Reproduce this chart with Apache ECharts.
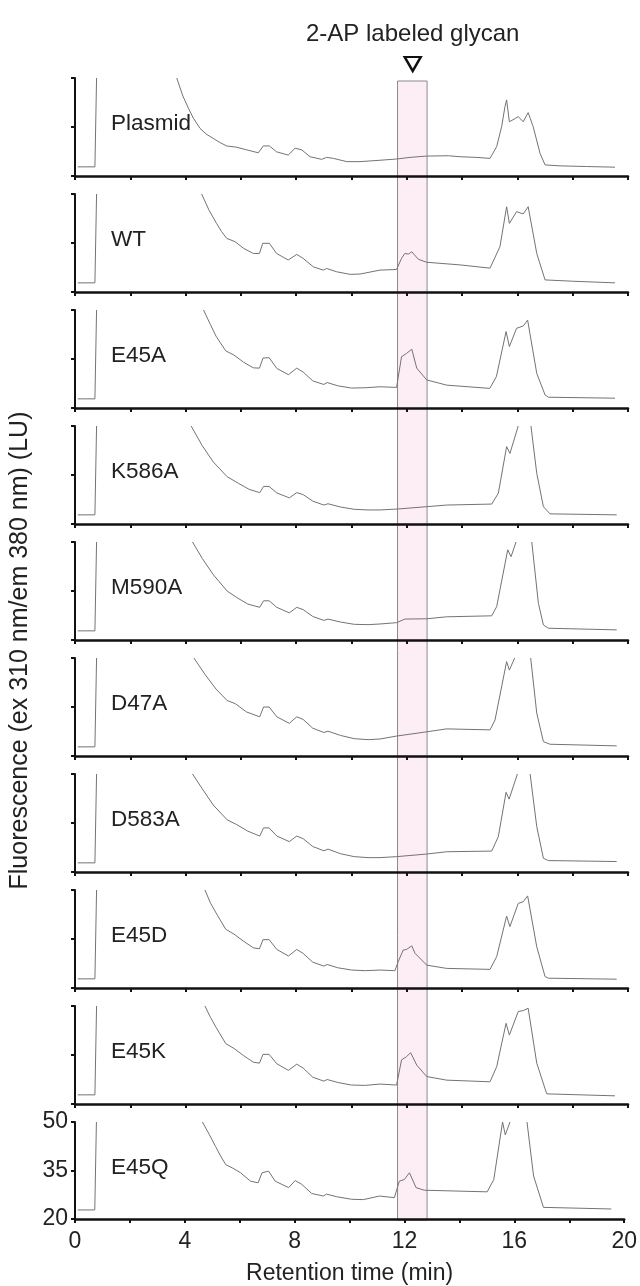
<!DOCTYPE html>
<html><head><meta charset="utf-8">
<script src="https://cdn.jsdelivr.net/npm/echarts@6/dist/echarts.min.js"></script>
<style>html,body{margin:0;padding:0;background:#fff}#c{width:640px;height:1286px}</style>
</head><body><div id="c"></div>
<script>
// ---------------- data ----------------
const sampleNames = ['Plasmid','WT','E45A','K586A','M590A','D47A','D583A','E45D','E45K','E45Q'];
const xTickLabels = [0,4,8,12,16,20];
const yTickLabels = [20,35,50];
const glycanWindow = [11.65, 12.72];   // min
const glycanMarkerTime = 12.2;          // min
const titleText = '2-AP labeled glycan';
const xTitle = 'Retention time (min)';
const yTitle = 'Fluorescence (ex 310 nm/em 380 nm) (LU)';

const plasmid = [[0.1,22.8],[0.72,22.8],[0.78,50],[2,null],
[3.68,50],[3.9,44.5],[4.1,40.8],[4.28,37.7],[4.52,34.6],[4.75,32.8],[5.0,31.5],[5.25,30.2],[5.49,29.2],[5.85,28.8],[6.21,28.0],[6.63,27.1],[6.81,29.2],[7.03,29.2],[7.29,27.4],[7.71,26.4],[7.96,28.5],[8.2,28.0],[8.5,25.9],[8.92,25.1],[9.1,25.7],[9.34,25.4],[9.83,24.4],[10.31,24.4],[11.0,24.8],[11.63,25.2],[12.12,25.7],[12.72,26.1],[13.5,26.2],[13.92,25.9],[14.5,25.7],[15.01,25.4],[15.25,29.0],[15.43,35.1],[15.55,41.2],[15.61,43.3],[15.71,36.6],[15.88,37.4],[16.03,38.2],[16.21,36.6],[16.39,39.4],[16.57,35.1],[16.82,26.9],[17.0,23.4],[17.54,23.1],[18.5,22.9],[19.53,22.7]];

const wt = [[0.1,22.8],[0.72,22.8],[0.78,50],[2,null],
[4.58,50],[4.85,45],[5.12,41.0],[5.3,38.5],[5.49,36.4],[5.79,35.4],[6.09,33.4],[6.45,31.8],[6.67,31.8],[6.79,34.9],[7.03,34.9],[7.29,31.8],[7.71,29.8],[8.02,31.5],[8.25,30.3],[8.62,27.7],[8.98,26.7],[9.1,27.2],[9.46,26.2],[9.95,25.4],[10.31,25.5],[11.03,26.7],[11.63,26.9],[11.81,30.3],[11.93,31.8],[12.06,31.6],[12.18,32.3],[12.42,30.0],[12.72,29.1],[13.92,28.3],[15.01,27.3],[15.37,33.9],[15.61,46.1],[15.71,41.0],[15.97,44.6],[16.21,43.9],[16.39,46.1],[16.7,31.8],[17.0,23.7],[18.0,23.3],[19.53,22.8]];

const e45a = [[0.1,22.8],[0.72,22.8],[0.78,50],[2,null],
[4.65,50],[4.9,45.5],[5.1,42],[5.45,37.5],[5.75,36.2],[6.1,34],[6.45,32.3],[6.67,32.2],[6.8,35.3],[7.02,35.4],[7.3,32.1],[7.72,30.2],[8.02,32.2],[8.25,31],[8.6,28.3],[9.0,27.2],[9.12,27.8],[9.5,26.8],[10.0,26.1],[10.5,26.2],[11.03,26.5],[11.63,26.3],[11.81,35.7],[11.99,36.7],[12.18,38.0],[12.36,32.2],[12.72,28.6],[13.44,27.0],[15.0,26.0],[15.24,29.6],[15.59,43.4],[15.71,38.8],[15.97,44.4],[16.21,45.1],[16.37,46.9],[16.7,30.6],[17.0,24.0],[17.12,23.3],[19.53,23.0]];

const k586a = [[0.1,22.8],[0.72,22.8],[0.78,50],[2,null],
[4.2,50],[4.6,44],[5.0,39],[5.5,34.5],[5.9,32.5],[6.3,30.6],[6.68,29.6],[6.82,31.5],[7.02,31.5],[7.3,29.5],[7.75,28],[8.02,29.6],[8.25,29],[8.6,27],[9.0,25.8],[9.15,26.2],[9.6,25.2],[10.1,24.5],[10.6,24.3],[11.03,24.3],[11.69,24.6],[12.72,25.3],[13.44,25.8],[15.07,26.1],[15.31,29.4],[15.61,43.7],[15.73,41.6],[16.03,50],[16.2,null],[16.49,50],[16.7,35.5],[16.94,25.3],[17.18,23.1],[19.59,22.8]];

const m590a = [[0.1,22.8],[0.72,22.8],[0.78,50],[2,null],
[4.25,50],[4.6,45],[5.0,40],[5.5,35],[5.85,33],[6.25,31],[6.68,30],[6.82,32],[7.02,32],[7.3,30],[7.75,28.3],[8.02,30],[8.25,29.3],[8.6,27.2],[9.0,26],[9.15,26.4],[9.6,25.5],[10.1,24.8],[10.6,24.7],[11.03,24.9],[11.63,25.3],[11.93,26.4],[12.72,26.5],[13.44,27.1],[15.07,27.4],[15.25,30.2],[15.65,47.6],[15.77,45.5],[15.95,50],[16.2,null],[16.52,50],[16.76,31.2],[16.94,24.6],[17.12,23.6],[19.59,23.1]];

const d47a = [[0.1,22.8],[0.72,22.8],[0.78,50],[2,null],
[4.3,50],[4.7,45],[5.1,40.5],[5.5,37],[5.8,36],[6.2,33.5],[6.68,32],[6.82,35],[7.02,35],[7.3,32],[7.75,30],[8.02,32],[8.25,31.2],[8.6,28.5],[9.0,27.2],[9.15,27.6],[9.6,26.3],[10.1,25.3],[10.6,25],[11.03,25.2],[11.63,26.1],[12.72,27.4],[13.44,28.3],[15.01,28.0],[15.19,31.0],[15.61,48.9],[15.71,46.3],[15.9,50],[16.2,null],[16.48,50],[16.7,33.1],[16.94,24.4],[17.18,23.6],[19.59,23.1]];

const d583a = [[0.1,22.8],[0.72,22.8],[0.78,50],[2,null],
[4.25,50],[4.6,45.5],[5.0,40.5],[5.5,36],[5.85,34.5],[6.25,32.5],[6.68,31],[6.82,33.5],[7.02,33.5],[7.3,31],[7.75,29.3],[8.02,31],[8.25,30.2],[8.6,27.8],[9.0,26.5],[9.15,27],[9.6,25.6],[10.1,24.7],[10.6,24.4],[11.03,24.4],[11.63,24.7],[12.72,25.5],[13.44,26.2],[15.07,26.4],[15.31,30.8],[15.59,44.4],[15.7,42.3],[16.0,50],[16.2,null],[16.46,50],[16.7,33.9],[16.94,24.2],[17.12,23.5],[19.59,23.2]];

const e45d = [[0.1,22.8],[0.72,22.8],[0.78,50],[2,null],
[4.7,50],[4.9,46],[5.1,43],[5.45,38],[5.75,36.5],[6.1,34.3],[6.45,32.3],[6.67,32],[6.8,34.8],[7.02,34.8],[7.3,31.8],[7.72,29.8],[8.02,31.8],[8.25,30.6],[8.6,27.9],[9.0,26.7],[9.12,27.2],[9.5,26.2],[10.0,25.5],[10.5,25.3],[11.03,25.5],[11.57,25.3],[11.69,28.1],[11.87,31.6],[11.99,31.8],[12.18,32.9],[12.3,30.6],[12.72,27.0],[13.44,26.0],[15.01,25.7],[15.25,29.6],[15.61,42.0],[15.73,38.8],[16.03,45.9],[16.21,46.4],[16.37,48.2],[16.7,32.6],[17.0,23.5],[17.12,23.0],[19.59,22.7]];

const e45k = [[0.1,22.8],[0.72,22.8],[0.78,50],[2,null],
[4.7,50],[4.9,46.5],[5.1,43.5],[5.45,38.5],[5.75,37],[6.1,34.8],[6.45,32.8],[6.67,32.5],[6.8,35.2],[7.02,35.2],[7.3,32.3],[7.72,30.3],[8.02,32.2],[8.25,31],[8.6,28.2],[9.0,27],[9.12,27.5],[9.5,26.6],[10.0,25.8],[10.5,25.7],[11.03,26.1],[11.63,25.8],[11.81,33.5],[11.99,34.5],[12.14,35.7],[12.36,31.9],[12.72,28.4],[13.44,27.3],[15.01,26.8],[15.25,31.4],[15.59,44.7],[15.71,41.1],[16.03,48.3],[16.21,48.6],[16.39,49.3],[16.7,32.5],[17.06,23.1],[19.53,22.5]];

const e45q = [[0.1,22.8],[0.72,22.8],[0.78,50],[2,null],
[4.64,50],[4.9,46],[5.12,42.4],[5.3,39.5],[5.49,36.8],[5.73,35.8],[6.03,34.3],[6.39,31.7],[6.67,31.2],[6.81,34.3],[7.05,34.8],[7.29,31.7],[7.78,29.7],[8.02,31.9],[8.26,30.7],[8.62,27.9],[9.04,27.1],[9.16,27.7],[9.52,26.9],[10.07,26.1],[10.5,26.0],[11.09,27.1],[11.63,26.6],[11.81,31.7],[11.99,32.2],[12.18,34.3],[12.42,29.7],[12.72,28.9],[15.01,28.4],[15.25,32.2],[15.57,50],[15.67,46.0],[15.84,50],[16.2,null],[16.46,50],[16.7,33.3],[17.06,23.6],[19.53,23.1]];

const traces = [plasmid, wt, e45a, k586a, m590a, d47a, d583a, e45d, e45k, e45q];

// ---------------- layout ----------------
const LEFT = 75, WIDTH = 553, TOP0 = 78, STEP = 116, PH = 98;
const FONT = '"Liberation Sans", Arial, Helvetica, sans-serif';
const n = sampleNames.length;
const grids = [], xAxes = [], yAxes = [], series = [], graphics = [];

for (let i = 0; i < n; i++) {
  const top = TOP0 + STEP * i;
  const last = i === n - 1;
  grids.push({left: LEFT, width: WIDTH, top: top, height: PH});
  xAxes.push({
    type: 'value', gridIndex: i, min: 0, max: 20, interval: 2, z: 5,
    axisLine: {show: true, onZero: false, lineStyle: {color: '#111', width: 2.5}},
    axisTick: {show: true, length: 4, lineStyle: {color: '#111', width: 2}},
    axisLabel: {show: last, margin: 11, fontSize: 23, color: '#222', fontFamily: FONT,
      formatter: v => xTickLabels.indexOf(v) >= 0 ? String(v) : ''},
    splitLine: {show: false},
    name: last ? xTitle : '', nameLocation: 'middle', nameGap: 43,
    nameTextStyle: {fontSize: 23, color: '#222', fontFamily: FONT}
  });
  yAxes.push({
    type: 'value', gridIndex: i, min: yTickLabels[0], max: yTickLabels[2], interval: 15, z: 5,
    axisLine: {show: true, onZero: false, lineStyle: {color: '#111', width: 2}},
    axisTick: {show: true, length: 4, lineStyle: {color: '#111', width: 2}},
    axisLabel: {show: last, margin: 7, fontSize: 23, color: '#222', fontFamily: FONT},
    splitLine: {show: false}
  });
  series.push({
    type: 'line', xAxisIndex: i, yAxisIndex: i, data: traces[i], name: sampleNames[i],
    showSymbol: false, symbol: 'none', clip: true, connectNulls: false, z: 3,
    lineStyle: {color: '#737373', width: 1}, silent: true, animation: false
  });
  graphics.push({type: 'text', left: 111, top: top + 34, z: 10,
    style: {text: sampleNames[i], fill: '#222', font: '22.5px ' + FONT}});
}

// overlay grid for the glycan window, marker, title and shared y title
const OV = n;
const ovTop = TOP0 + 3;
const ovBottom = TOP0 + STEP * (n - 1) + PH;
grids.push({left: LEFT, width: WIDTH, top: ovTop, height: ovBottom - ovTop});
xAxes.push({type: 'value', gridIndex: OV, min: 0, max: 20, show: false});
yAxes.push({type: 'value', gridIndex: OV, min: 0, max: 1, show: true,
  axisLine: {show: false}, axisTick: {show: false}, axisLabel: {show: false}, splitLine: {show: false},
  name: yTitle, nameLocation: 'middle', nameGap: 43, nameRotate: 90,
  nameTextStyle: {fontSize: 25, color: '#222', fontFamily: FONT}});
series.push({
  type: 'line', xAxisIndex: OV, yAxisIndex: OV, data: [], z: 1, silent: true, animation: false,
  markArea: {silent: true,
    itemStyle: {color: '#fdeef5', borderColor: '#8a8a8a', borderWidth: 1},
    data: [[{xAxis: glycanWindow[0]}, {xAxis: glycanWindow[1]}]]},
  markPoint: {silent: true, animation: false,
    data: [
      {coord: [glycanMarkerTime, 1], symbol: 'path://M0,0 L16,0 L8,13 Z', symbolSize: [16, 14],
       symbolOffset: [0, -17], itemStyle: {color: '#fff', borderColor: '#111', borderWidth: 2.4},
       label: {show: false}},
      {coord: [glycanMarkerTime, 1], symbol: 'circle', symbolSize: 0,
       label: {show: true, position: 'inside', offset: [0, -47], formatter: titleText,
         fontSize: 24, color: '#222', fontFamily: FONT}}
    ]}
});

const chart = echarts.init(document.getElementById('c'), null, {renderer: 'canvas'});
chart.setOption({
  animation: false, backgroundColor: '#fff',
  grid: grids, xAxis: xAxes, yAxis: yAxes, series: series, graphic: graphics
});
</script></body></html>
